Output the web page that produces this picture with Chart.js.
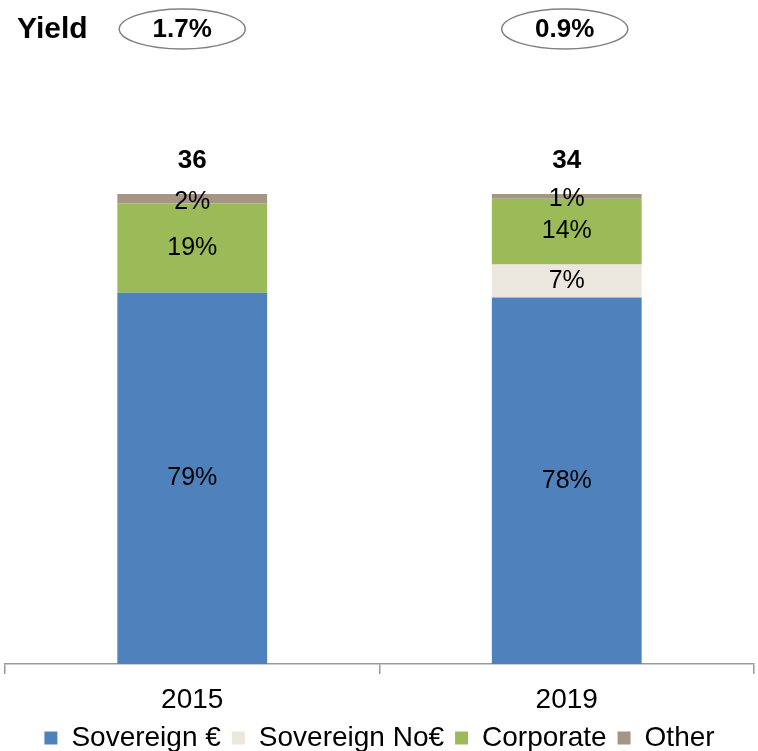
<!DOCTYPE html>
<html>
<head>
<meta charset="utf-8">
<script src="https://cdn.jsdelivr.net/npm/chart.js@4.4.1/dist/chart.umd.min.js"></script>
<style>
  html, body { margin: 0; padding: 0; background: #fff; }
  #wrap { width: 758px; height: 751px; position: relative; }
</style>
</head>
<body>
<div id="wrap"><canvas id="portfolioMix"></canvas></div>
<script>
// categories and series (share of portfolio, %)
var years = ['2015', '2019'];
var sovereignEur = [79, 78];
var sovereignNonEur = [0, 7];
var corporate = [19, 14];
var other = [2, 1];
// portfolio size shown above each bar, and yield per year
var totals = [36, 34];
var yields = ['1.7%', '0.9%'];

var FONT = '"Liberation Sans", Arial, sans-serif';

// labels inside each segment, totals above the bars, yield ovals on top
var labelsPlugin = {
  id: 'barLabels',
  afterDatasetsDraw: function(chart) {
    var ctx = chart.ctx;
    ctx.save();
    ctx.textAlign = 'center';
    ctx.textBaseline = 'middle';
    ctx.fillStyle = '#000';
    ctx.font = '25px ' + FONT;
    chart.data.datasets.forEach(function(ds, i) {
      var meta = chart.getDatasetMeta(i);
      meta.data.forEach(function(bar, j) {
        var v = ds.data[j];
        if (!v) return;
        var y = (bar.y + bar.base) / 2;
        if (v <= 2) y += 3;
        ctx.fillText(v + '%', bar.x, y);
      });
    });

    var yScale = chart.scales.y;
    var top = yScale.getPixelForValue(100);
    var first = chart.getDatasetMeta(0).data;
    ctx.font = 'bold 26px ' + FONT;
    totals.forEach(function(t, j) {
      ctx.fillText(String(t), first[j].x, top - 33);
    });

    ctx.font = 'bold 30px ' + FONT;
    ctx.textAlign = 'left';
    ctx.fillText('Yield', 17, 30);
    ctx.font = 'bold 26px ' + FONT;
    ctx.textAlign = 'center';
    yields.forEach(function(y, j) {
      var cx = first[j].x - (j === 0 ? 10 : 2);
      ctx.beginPath();
      ctx.ellipse(cx, 29, 63, 20, 0, 0, Math.PI * 2);
      ctx.strokeStyle = '#808080';
      ctx.lineWidth = 1.5;
      ctx.stroke();
      ctx.fillText(y, cx, 30);
    });
    ctx.restore();
  }
};

var ctx = document.getElementById('portfolioMix');

var myChart = new Chart(ctx, {
  type: 'bar',
  data: {
    labels: years,
    datasets: [
      { label: 'Sovereign €', data: sovereignEur, backgroundColor: '#4F81BD' },
      { label: 'Sovereign No€', data: sovereignNonEur, backgroundColor: '#EBE7DE' },
      { label: 'Corporate', data: corporate, backgroundColor: '#9BBB59' },
      { label: 'Other', data: other, backgroundColor: '#A59585' }
    ]
  },
  options: {
    responsive: true,
    maintainAspectRatio: false,
    animation: false,
    layout: { padding: { top: 194, left: 5, right: 4, bottom: -11 } },
    datasets: {
      bar: { categoryPercentage: 0.8, barPercentage: 0.5, borderWidth: 0 }
    },
    scales: {
      x: {
        stacked: true,
        // keep the year labels close to the legend
        afterFit: function(scale) { scale.height = 49; },
        grid: {
          offset: true,
          drawOnChartArea: false,
          drawTicks: true,
          tickLength: 10,
          color: '#999',
          lineWidth: 1.5
        },
        border: { color: '#999', width: 1.5 },
        ticks: { color: '#000', font: { family: FONT, size: 28, lineHeight: 1.1 }, padding: 11 }
      },
      y: {
        stacked: true,
        display: false,
        min: 0,
        max: 100
      }
    },
    plugins: {
      legend: {
        position: 'bottom',
        labels: {
          color: '#000',
          font: { family: FONT, size: 28, lineHeight: 1.1 },
          boxWidth: 13,
          boxHeight: 13,
          padding: 11
        }
      },
      tooltip: { enabled: false }
    }
  },
  plugins: [labelsPlugin]
});
</script>
</body>
</html>
